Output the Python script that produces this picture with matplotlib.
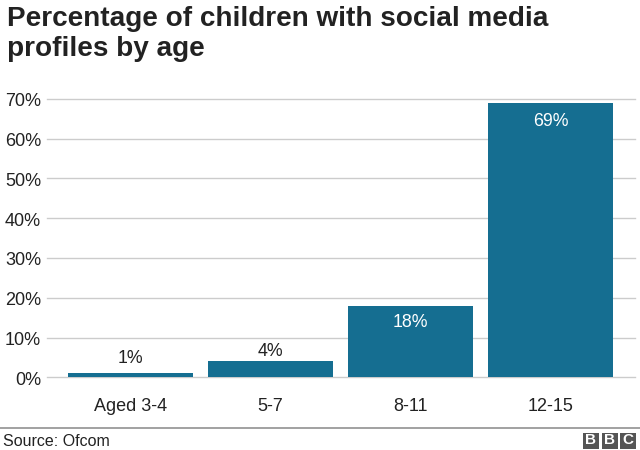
import matplotlib
matplotlib.use("Agg")
from matplotlib import pyplot as plt
from matplotlib.lines import Line2D
from matplotlib.patches import Rectangle
import matplotlib.transforms as transforms

categories = ['Aged 3-4', '5-7', '8-11', '12-15']
values = [1, 4, 18, 69]
y_ticks = [0, 10, 20, 30, 40, 50, 60, 70]

bar_colour = '#156e91'
text_colour = '#222222'

plt.rcParams['font.family'] = ['Liberation Sans', 'DejaVu Sans']

W, H = 640, 450
PX = 72 / 100  # points per pixel at dpi 100

fig = plt.figure(figsize=(W / 100, H / 100), dpi=100)

# axes box in pixels, 0% and 70% gridlines sit on its bottom and top
left, right, top, bottom = 47, 635, 98.7, 377.4
ax = fig.add_axes([left / W, 1 - bottom / H, (right - left) / W, (bottom - top) / H])

ax.bar(range(len(values)), values, width=125.5 / 140, color=bar_colour, zorder=3)

# bars are 140px apart, first one centred on x=130.5
ax.set_xlim((left - 130.5) / 140, (right - 130.5) / 140)
ax.set_ylim(0, 70)

# label offsets from the bar top, in pixels
label_offsets = [14.5, 9.5, -17, -19]
for i, v in enumerate(values):
    ax.annotate(f'{v}%', (i, v), xytext=(0, label_offsets[i] * PX), textcoords='offset points',
                ha='center', va='center', fontsize=12.8,
                color='white' if v > 10 else text_colour, zorder=4)

ax.set_yticks(y_ticks)
ax.set_yticklabels([f'{t}%' for t in y_ticks], fontsize=13, color=text_colour)
ax.set_xticks(range(len(values)))
ax.set_xticklabels(categories, fontsize=13, color=text_colour)
ax.tick_params(axis='both', length=0)
ax.tick_params(axis='x', pad=15)
ax.tick_params(axis='y', pad=4.3)

# y labels sit a pixel lower than matplotlib centres them
nudge = transforms.ScaledTranslation(0, -1 / 100, fig.dpi_scale_trans)
for label in ax.get_yticklabels():
    label.set_transform(label.get_transform() + nudge)

ax.grid(axis='y', color='#cccccc', linewidth=1, zorder=0, clip_on=False)
ax.set_axisbelow(True)
for side in ['top', 'right', 'left', 'bottom']:
    ax.spines[side].set_visible(False)

fig.text(7 / W, 1 - 6 / H, 'Percentage of children with social media\nprofiles by age',
         fontsize=20.1, fontweight='bold', color=text_colour, va='top', ha='left', linespacing=1.2)

# footer
fig.add_artist(Line2D([0, 1], [1 - 428.3 / H] * 2, color='#888888', linewidth=1.1))
fig.text(3 / W, 1 - 442 / H, 'Source: Ofcom', fontsize=11.5, color=text_colour, va='center', ha='left')

# BBC blocks
for i, letter in enumerate('BBC'):
    x0 = 583 + i * 18.5
    fig.add_artist(Rectangle((x0 / W, 1 - 448.5 / H), 16 / W, 16 / H,
                             transform=fig.transFigure, color='#555555', linewidth=0))
    fig.text((x0 + 8) / W, 1 - 440.5 / H, letter, fontsize=11, fontweight='bold',
             color='white', ha='center', va='center')

fig.savefig('out.png', dpi=100)
